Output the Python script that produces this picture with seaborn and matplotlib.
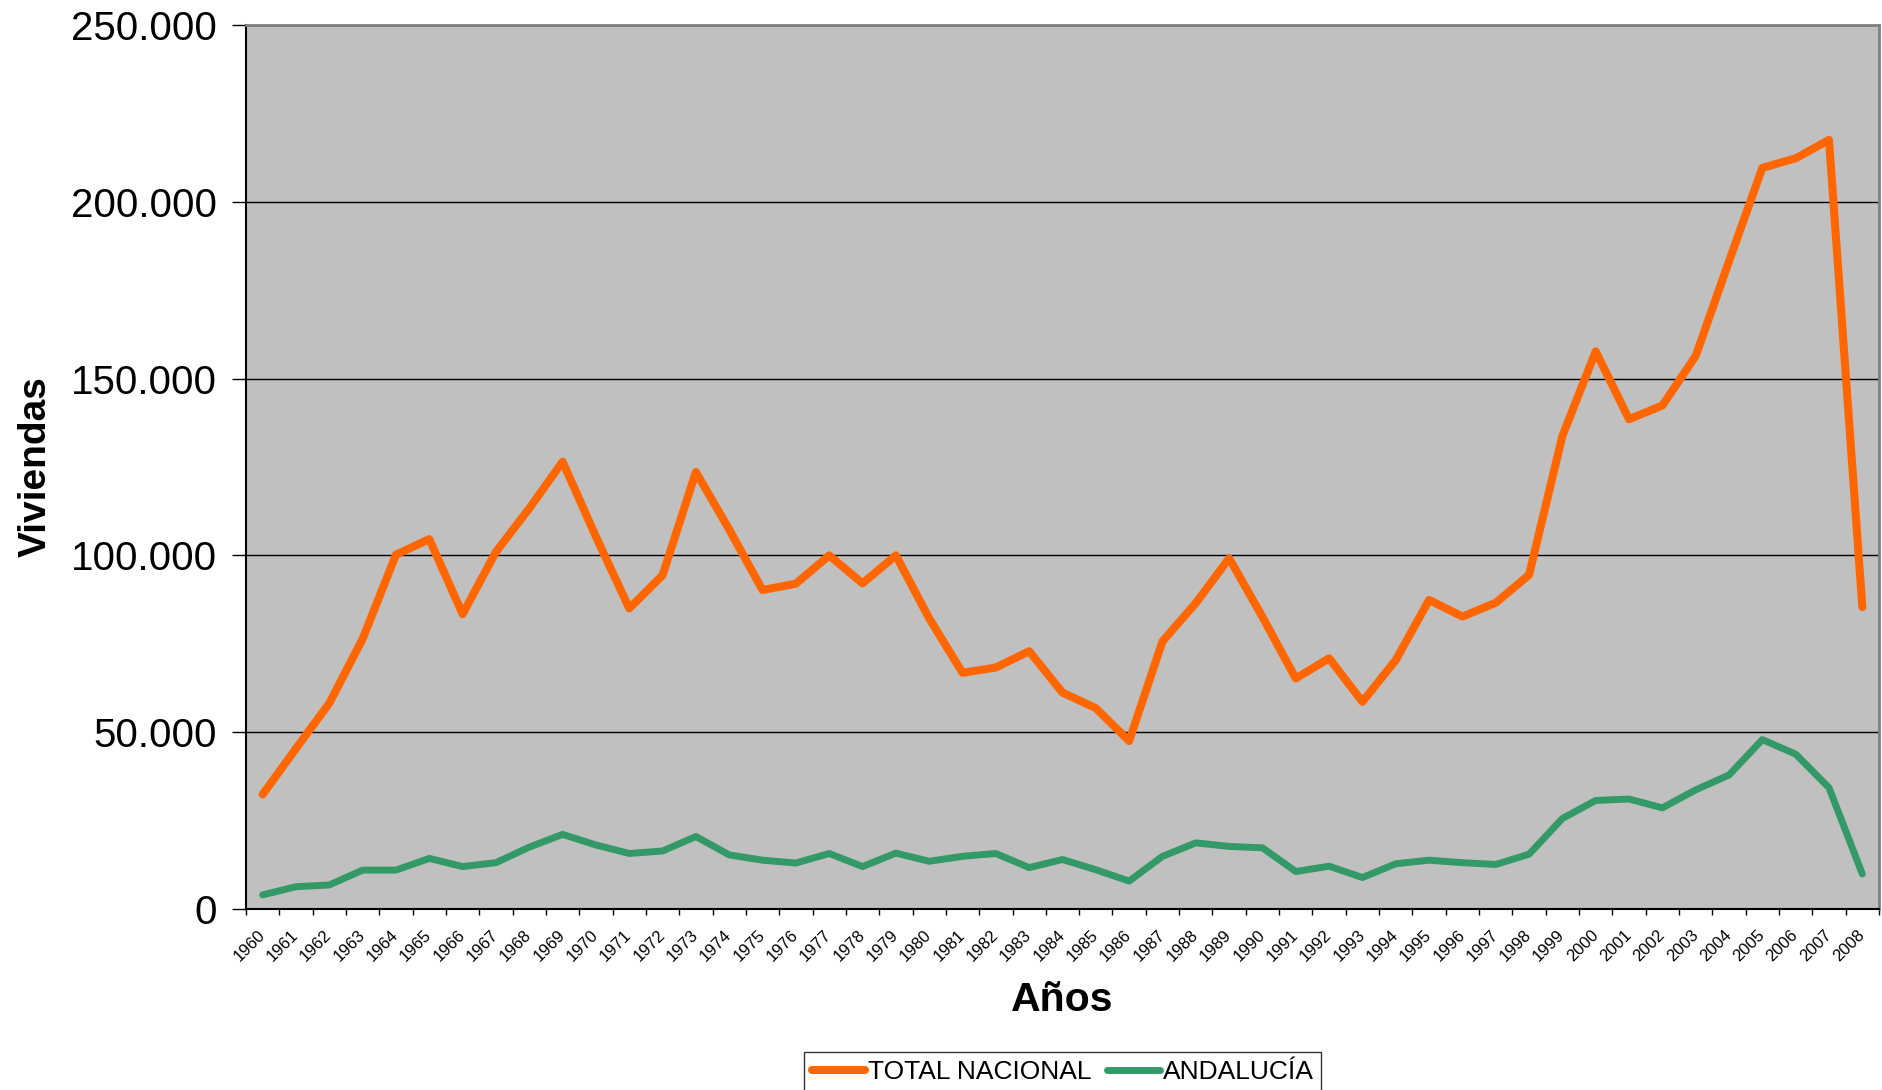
import numpy as np
import pandas as pd
import matplotlib
matplotlib.use("Agg")
import matplotlib.pyplot as plt
import matplotlib.ticker as mticker
import seaborn as sns

# Viviendas terminadas por año
years = list(range(1960, 2009))
total_nacional = [
    32400, 45400, 58200, 76400, 100200, 104600, 83400, 101000, 113300, 126500,
    105300, 85000, 94400, 123600, 107300, 90200, 92000, 100000, 92100, 100000,
    82200, 66800, 68300, 72900, 61200, 56800, 47500, 75700, 86500, 99200,
    82600, 65200, 70900, 58600, 70400, 87400, 82700, 86600, 94500, 133800,
    157700, 138500, 142400, 156400, 183200, 209600, 212300, 217500, 85400,
]
andalucia = [
    4000, 6300, 6800, 11000, 11000, 14300, 12000, 13100, 17500, 21100,
    18100, 15700, 16400, 20500, 15300, 13800, 13000, 15700, 12000, 15800,
    13500, 14900, 15700, 11700, 14000, 11100, 7900, 14900, 18700, 17700,
    17300, 10600, 12100, 8900, 12800, 13800, 13100, 12600, 15500, 25600,
    30700, 31100, 28600, 33700, 37900, 47900, 43800, 34300, 9900,
]
series_names = ["TOTAL NACIONAL", "ANDALUCÍA"]
colors = {"TOTAL NACIONAL": "#FF6600", "ANDALUCÍA": "#339966"}
widths = {"TOTAL NACIONAL": 5.8, "ANDALUCÍA": 5.0}

df = pd.DataFrame({
    "year": years * 2,
    "value": total_nacional + andalucia,
    "serie": [series_names[0]] * len(years) + [series_names[1]] * len(years),
})

sns.set_style("white")
plt.rcParams["font.family"] = ["Liberation Sans", "DejaVu Sans"]
plt.rcParams["text.color"] = "black"
plt.rcParams["axes.labelcolor"] = "black"
plt.rcParams["xtick.color"] = "black"
plt.rcParams["ytick.color"] = "black"

fig = plt.figure(figsize=(18.83, 10.90), dpi=100)
ax = fig.add_axes([246 / 1883, 1 - 909 / 1090, (1879 - 246) / 1883, (909 - 25) / 1090])
ax.set_facecolor("#C0C0C0")

for name in series_names:
    sub = df[df["serie"] == name]
    sns.lineplot(data=sub, x="year", y="value", ax=ax, color=colors[name],
                 linewidth=widths[name], label=name, solid_capstyle="round")

ax.set_xlim(years[0] - 0.5, years[-1] + 0.5)
ax.set_ylim(0, 250000)
ax.yaxis.set_major_locator(mticker.MultipleLocator(50000))
ax.yaxis.set_major_formatter(mticker.FuncFormatter(lambda v, p: f"{int(v):,}".replace(",", ".")))
ax.grid(axis="y", color="black", linewidth=1.0)
ax.set_axisbelow(True)

ax.set_xticks(years)
ax.set_xticklabels([str(y) for y in years], rotation=45, ha="right",
                   rotation_mode="anchor", va="center", fontsize=12)
ax.set_xticks(np.arange(years[0] - 0.5, years[-1] + 1.0, 1.0), minor=True)
ax.tick_params(axis="x", which="major", length=0, pad=17)
ax.tick_params(axis="x", which="minor", length=4, width=1, color="black", direction="out")
ax.tick_params(axis="y", length=10, width=1, color="black", direction="out", pad=11,
               labelsize=29)
ax.tick_params(left=True, bottom=True, which="both")

for s in ["left", "bottom"]:
    ax.spines[s].set_color("black")
    ax.spines[s].set_linewidth(1.5)
for s in ["right", "top"]:
    ax.spines[s].set_color("#808080")
    ax.spines[s].set_linewidth(2)

ax.set_xlabel("Años", fontsize=29.5, fontweight="bold", labelpad=12)
ax.set_ylabel("Viviendas", fontsize=28, fontweight="bold", labelpad=12)

ax.get_legend().remove()
handles, labels = ax.get_legend_handles_labels()
leg = fig.legend(handles, labels, loc="upper center", ncol=2,
                 bbox_to_anchor=(1063 / 1883, 1 - 1052 / 1090),
                 bbox_transform=fig.transFigure, fontsize=19,
                 handlelength=2.0, handletextpad=0.1, columnspacing=0.6,
                 borderpad=0.3, borderaxespad=0, frameon=True, fancybox=False)
leg.get_frame().set_edgecolor("black")
leg.get_frame().set_linewidth(1)

fig.savefig("out.png", dpi=100, facecolor="white")
